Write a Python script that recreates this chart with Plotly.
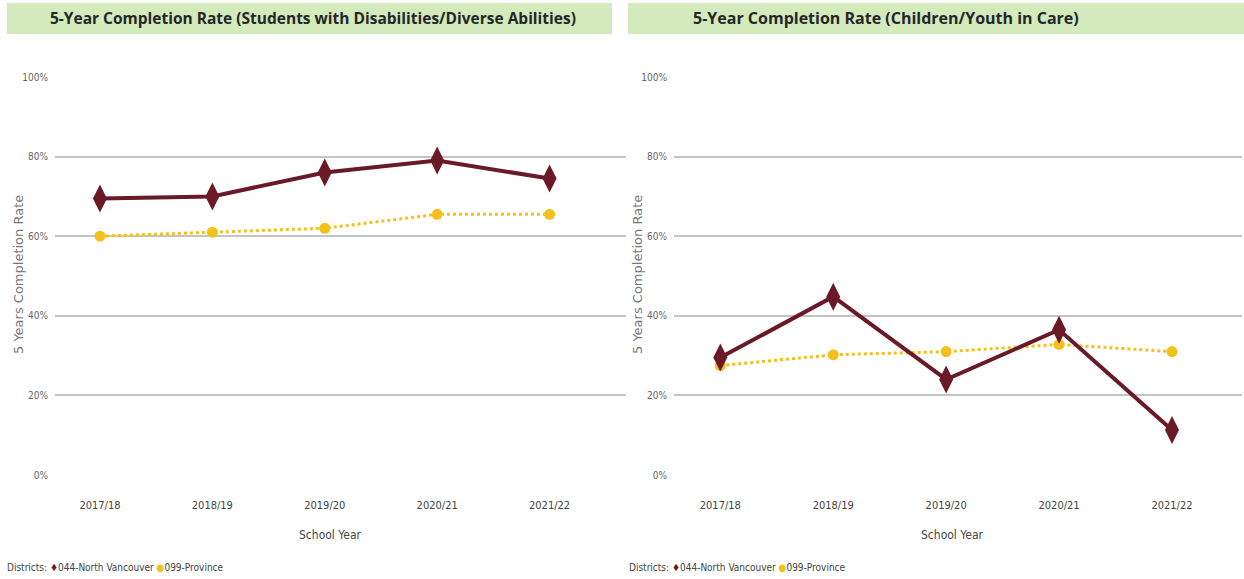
import plotly.graph_objects as go

years = ["2017/18", "2018/19", "2019/20", "2020/21", "2021/22"]
left_district = [69.5, 70.0, 76.0, 79.0, 74.5]
left_province = [60.0, 61.0, 62.0, 65.5, 65.5]
right_district = [29.5, 44.8, 24.0, 36.5, 11.3]
right_province = [27.5, 30.2, 31.0, 32.8, 31.0]
y_ticks = [0, 20, 40, 60, 80, 100]
y_tick_labels = ["0%", "20%", "40%", "60%", "80%", "100%"]

titles = ["5-Year Completion Rate (Students with Disabilities/Diverse Abilities)",
          "5-Year Completion Rate (Children/Youth in Care)"]

W, H = 1244, 579
MAROON = "#6a1a26"
GOLD = "#f4c01c"
NARROW = "Liberation Sans Narrow, Arial Narrow, DejaVu Sans Condensed, sans-serif"

fig = go.Figure()
xi = list(range(len(years)))

for k, (dist, prov) in enumerate([(left_district, left_province), (right_district, right_province)]):
    xa = "x" if k == 0 else "x2"
    ya = "y" if k == 0 else "y2"
    fig.add_trace(go.Scatter(x=xi, y=prov, xaxis=xa, yaxis=ya, mode="lines+markers",
                             line=dict(color=GOLD, width=3, dash="dot"),
                             marker=dict(symbol="circle", size=11, color=GOLD),
                             showlegend=False, cliponaxis=False))
    fig.add_trace(go.Scatter(x=xi, y=dist, xaxis=xa, yaxis=ya, mode="lines+markers",
                             line=dict(color=MAROON, width=4),
                             marker=dict(symbol="diamond-tall", size=20, color=MAROON),
                             showlegend=False, cliponaxis=False))

def px(x):
    return x / W

def py(y):
    return (H - y) / H

axis_common = dict(tickvals=xi, ticktext=years, showgrid=False, zeroline=False, showline=False,
                   tickfont=dict(family=NARROW, size=11, color="#444"), ticks="",
                   ticklabelstandoff=22, automargin=False)
yaxis_common = dict(range=[0, 100], tickvals=y_ticks, ticktext=y_tick_labels, showgrid=True,
                    gridcolor="#c4c4c4", gridwidth=2, zeroline=False, showline=False,
                    tickfont=dict(family=NARROW, size=10, color="#666"), ticks="", ticklabelstandoff=6,
                    domain=[py(475), py(77)], automargin=False)

fig.update_layout(
    width=W, height=H, margin=dict(l=0, r=0, t=0, b=0, autoexpand=False),
    paper_bgcolor="white", plot_bgcolor="white",
    xaxis=dict(axis_common, domain=[px(55), px(626)], range=[-0.4, 4.68], anchor="y"),
    yaxis=dict(yaxis_common, anchor="x"),
    xaxis2=dict(axis_common, domain=[px(674), px(1242)], range=[-0.41, 4.62], anchor="y2"),
    yaxis2=dict(yaxis_common, anchor="x2"),
)

# title bars
bars = [(7, 612), (628, 1244)]
title_x = [313, 886]
title_sizes = [15.5, 16]
for (x0, x1), tx, t, s in zip(bars, title_x, titles, title_sizes):
    fig.add_shape(type="rect", xref="paper", yref="paper", x0=px(x0), x1=px(x1), y0=py(34), y1=py(3),
                  fillcolor="#d3eabd", line=dict(width=0), layer="below")
    fig.add_annotation(xref="paper", yref="paper", x=px(tx), y=py(18), text=f"<b>{t}</b>",
                       showarrow=False, font=dict(family="Open Sans, sans-serif", size=s, color="#262626"),
                       xanchor="center", yanchor="middle")

legend_text = ("Districts: <span style='color:%s'>♦</span>044-North Vancouver "
               "<span style='color:%s'>●</span>099-Province") % (MAROON, GOLD)
for x0, xt, xs in ((5, 19, 330), (627, 638, 953)):
    fig.add_annotation(xref="paper", yref="paper", x=px(x0), y=py(567), text=legend_text, showarrow=False,
                       font=dict(family=NARROW, size=10, color="#444"), xanchor="left", yanchor="middle")
    fig.add_annotation(xref="paper", yref="paper", x=px(xt), y=py(275), text="5 Years Completion Rate",
                       textangle=-90, showarrow=False,
                       font=dict(family="DejaVu Sans, sans-serif", size=13, color="#777"),
                       xanchor="center", yanchor="middle")
    fig.add_annotation(xref="paper", yref="paper", x=px(xs), y=py(535), text="School Year",
                       showarrow=False, font=dict(family=NARROW, size=12, color="#444"),
                       xanchor="center", yanchor="middle")

fig.write_html("out.html", post_script="document.body.style.margin='0px';",
               config={"displayModeBar": False})
